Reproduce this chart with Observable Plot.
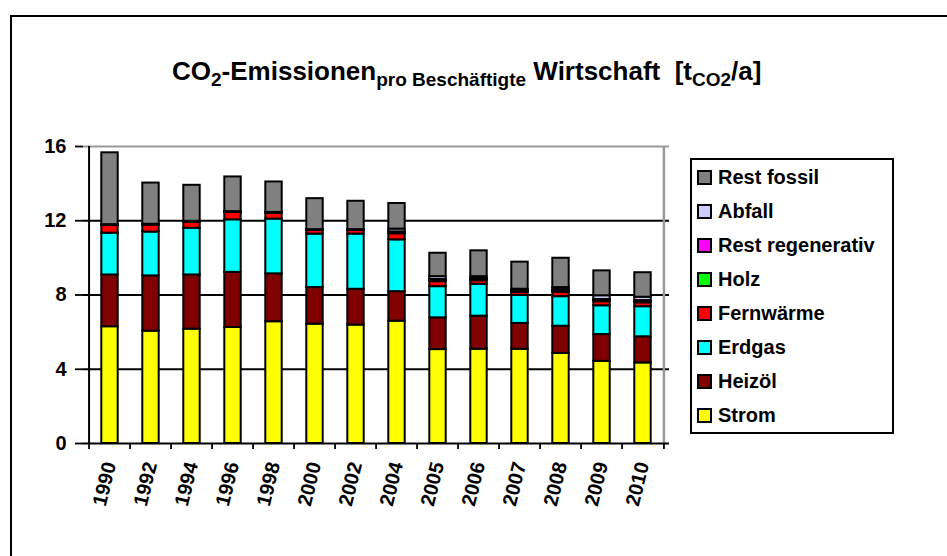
<!DOCTYPE html>
<html><head><meta charset="utf-8">
<script src="https://cdn.jsdelivr.net/npm/d3@7"></script>
<script src="https://cdn.jsdelivr.net/npm/@observablehq/plot@0.6"></script>
<style>
body{margin:0;overflow:hidden;background:#fff;font-family:"Liberation Sans",Arial,sans-serif;}
#wrap{position:relative;width:947px;height:556px;overflow:hidden;background:#fff;}
#chart{position:absolute;left:0;top:0;}
#frame{position:absolute;left:10px;top:15px;width:1000px;height:600px;border-left:2px solid #000;border-top:2px solid #000;}
#title{position:absolute;left:172px;top:58px;font-size:26px;font-weight:bold;white-space:nowrap;line-height:26px;color:#000;}
#title .sub{font-size:19px;vertical-align:-6px;}
#legend{position:absolute;left:690px;top:158px;width:200px;height:272px;border:2px solid #000;background:#fff;}
.item{position:absolute;left:5px;height:34px;display:flex;align-items:center;font-size:20px;font-weight:bold;white-space:nowrap;}
.sw{width:11px;height:11px;border:2px solid #000;margin-right:6px;}
</style></head>
<body><div id="wrap"><div id="frame"></div><div id="chart"></div>
<div id="title">CO<span class="sub">2</span>-Emissionen<span class="sub">pro Beschäftigte</span> Wirtschaft&nbsp; [t<span class="sub">CO2</span>/a]</div>
<div id="legend"></div></div>
<script>
const years = ["1990","1992","1994","1996","1998","2000","2002","2004","2005","2006","2007","2008","2009","2010"];
const categories = ["Strom","Heizöl","Erdgas","Fernwärme","Holz","Rest regenerativ","Abfall","Rest fossil"];
const colors = ["#FFFF00","#800000","#00FFFF","#FF0000","#00FF00","#FF00FF","#CCCCFF","#808080"];
const strom      = [6.29,6.05,6.16,6.25,6.56,6.43,6.38,6.59,5.06,5.08,5.08,4.85,4.43,4.34];
const heizoel    = [2.79,2.98,2.92,2.97,2.58,1.97,1.93,1.59,1.71,1.78,1.39,1.47,1.44,1.41];
const erdgas     = [2.25,2.36,2.52,2.83,2.95,2.88,2.97,2.79,1.68,1.72,1.51,1.59,1.55,1.62];
const fernwaerme = [0.42,0.38,0.33,0.40,0.32,0.20,0.20,0.33,0.27,0.19,0.17,0.24,0.22,0.21];
const holz       = [0.01,0.01,0.01,0.01,0.01,0.01,0.01,0.05,0.06,0.06,0.05,0.08,0.06,0.06];
const restRegen  = [0.01,0.01,0.01,0.01,0.01,0.01,0.01,0.05,0.06,0.06,0.05,0.08,0.06,0.06];
const abfall     = [0.02,0.02,0.02,0.02,0.02,0.02,0.02,0.15,0.15,0.10,0.06,0.09,0.20,0.18];
const restFossil = [3.87,2.22,1.94,1.87,1.64,1.67,1.53,1.38,1.26,1.39,1.46,1.58,1.34,1.32];
const yTicks = [0,4,8,12,16];
const gridLines = [4,8,12];

const series = [strom,heizoel,erdgas,fernwaerme,holz,restRegen,abfall,restFossil];
const rows = [];
years.forEach((yr,i)=>{ categories.forEach((c,k)=>rows.push({year:yr, cat:c, value:series[k][i]})); });

const W = 947, H = 556, mL = 83, mR = 278, mT = 146, mB = 113;
const step = (W - mL - mR) / years.length;

const chart = Plot.plot({
  width: W, height: H,
  marginLeft: mL, marginRight: mR, marginTop: mT, marginBottom: mB,
  style: {fontFamily: "'Liberation Sans', Arial, sans-serif", fontSize: "20px", fontWeight: "bold", color: "#000", background: "transparent", overflow: "visible"},
  x: {domain: years, padding: 0, axis: null, label: null},
  y: {domain: [0,16], axis: null, label: null},
  color: {domain: categories, range: colors},
  marks: [
    Plot.ruleY(gridLines, {stroke: "#000", strokeWidth: 1.8}),
    Plot.ruleY([16], {stroke: "#999", strokeWidth: 2}),
    Plot.ruleX([years[years.length-1]], {dx: step/2, stroke: "#999", strokeWidth: 2.5}),
    Plot.barY(rows, {x: "year", y: "value", fill: "cat", stroke: "#000", strokeWidth: 2, insetLeft: 12.3, insetRight: 12.3}),
    Plot.ruleX(years, {x: d=>d, dx: -step/2, y1: 0, y2: 0, insetBottom: -6, stroke: "#000", strokeWidth: 1.8}),
    Plot.ruleX([years[years.length-1]], {dx: step/2, y1: 0, y2: 0, insetBottom: -6, stroke: "#000", strokeWidth: 1.8}),
    Plot.ruleY([0], {stroke: "#000", strokeWidth: 2}),
    Plot.ruleX([years[0]], {dx: -step/2, stroke: "#000", strokeWidth: 2}),
    Plot.axisY({ticks: yTicks, label: null, tickSize: 8, tickPadding: 9, strokeWidth: 1.8, fontSize: 20, fontWeight: "bold", fill: "#000", tickFormat: d=>String(d)}),
    Plot.axisX({label: null, tickSize: 0, tickPadding: 19, tickRotate: -76, fontSize: 20, fontWeight: "bold", fill: "#000"})
  ]
});
document.getElementById("chart").appendChild(chart);

const leg = document.getElementById("legend");
const legendOrder = [...categories].reverse();
legendOrder.forEach((c,k)=>{
  const it = document.createElement("div");
  it.className = "item";
  it.style.top = (k*34) + "px";
  const sw = document.createElement("div");
  sw.className = "sw";
  sw.style.background = colors[categories.indexOf(c)];
  it.appendChild(sw);
  it.appendChild(document.createTextNode(c));
  leg.appendChild(it);
});
</script></body></html>
